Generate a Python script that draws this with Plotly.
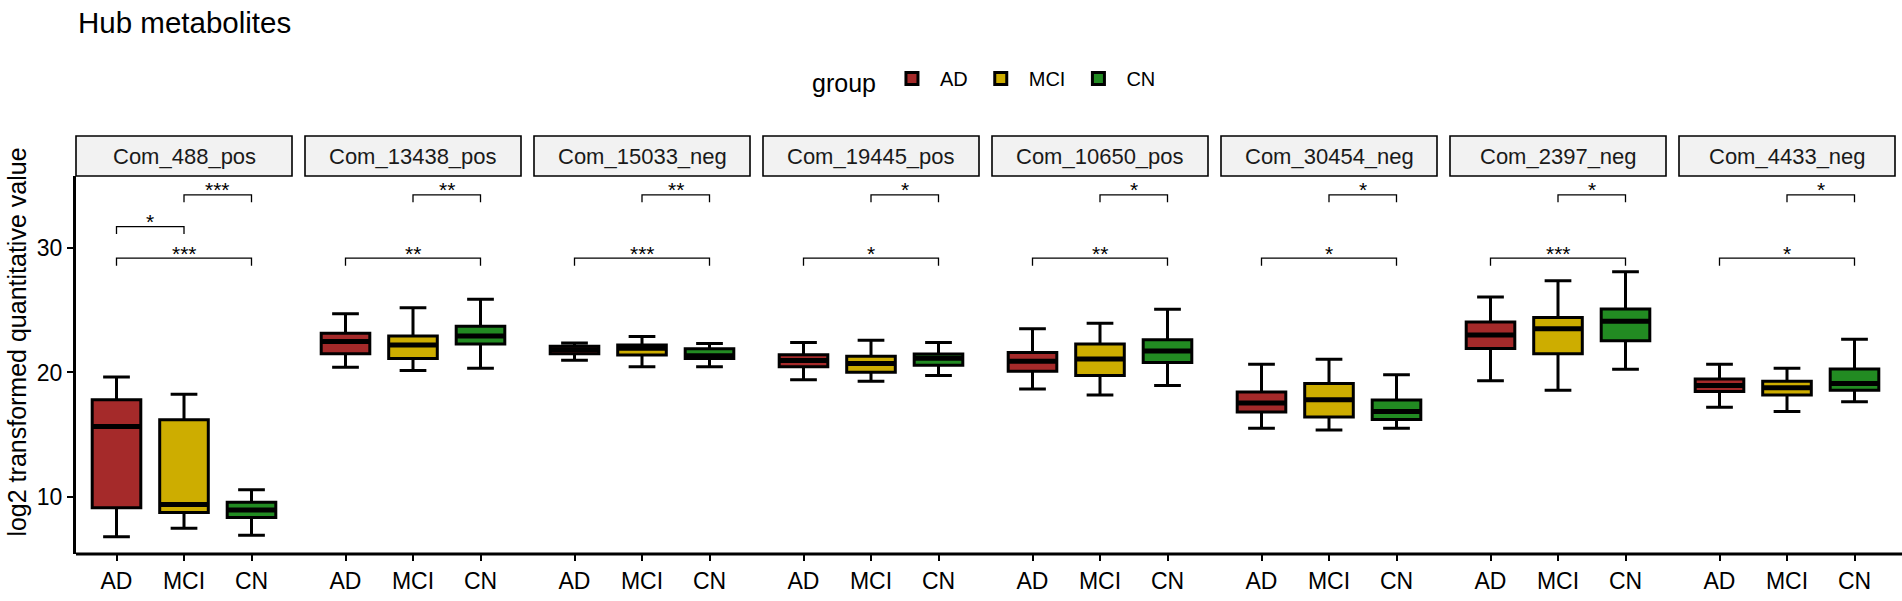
import plotly.graph_objects as go

# ---------------- data ----------------
metabolites = ["Com_488_pos", "Com_13438_pos", "Com_15033_neg", "Com_19445_pos",
               "Com_10650_pos", "Com_30454_neg", "Com_2397_neg", "Com_4433_neg"]
groups = ["AD", "MCI", "CN"]

ad_low = [6.76, 20.41, 20.99, 19.42, 18.66, 15.50, 19.34, 17.20]
ad_q1 = [9.11, 21.51, 21.51, 20.46, 20.10, 16.81, 21.93, 18.46]
ad_med = [15.64, 22.50, 21.82, 20.97, 20.91, 17.54, 23.02, 18.95]
ad_q3 = [17.80, 23.16, 22.10, 21.43, 21.61, 18.43, 24.07, 19.47]
ad_high = [19.63, 24.72, 22.37, 22.42, 23.52, 20.67, 26.08, 20.67]

mci_low = [7.46, 20.15, 20.46, 19.29, 18.19, 15.37, 18.56, 16.86]
mci_q1 = [8.72, 21.12, 21.40, 20.02, 19.76, 16.42, 21.51, 18.19]
mci_med = [9.37, 22.22, 21.95, 20.73, 21.09, 17.80, 23.52, 18.77]
mci_q3 = [16.20, 22.94, 22.22, 21.30, 22.29, 19.11, 24.43, 19.29]
mci_high = [18.25, 25.21, 22.89, 22.60, 23.96, 21.07, 27.38, 20.34]

cn_low = [6.89, 20.34, 20.46, 19.76, 18.95, 15.50, 20.26, 17.64]
cn_q1 = [8.32, 22.29, 21.12, 20.57, 20.81, 16.21, 22.55, 18.56]
cn_med = [8.93, 22.94, 21.35, 21.14, 21.72, 16.86, 24.12, 19.11]
cn_q3 = [9.55, 23.73, 21.90, 21.48, 22.63, 17.78, 25.11, 20.28]
cn_high = [10.55, 25.90, 22.34, 22.42, 25.08, 19.81, 28.11, 22.68]

# significance brackets
sig_panel = [0, 0, 0, 1, 1, 2, 2, 3, 3, 4, 4, 5, 5, 6, 6, 7, 7]
sig_from = ["MCI", "AD", "AD", "MCI", "AD", "MCI", "AD", "MCI", "AD",
            "MCI", "AD", "MCI", "AD", "MCI", "AD", "MCI", "AD"]
sig_to = ["CN", "MCI", "CN", "CN", "CN", "CN", "CN", "CN", "CN",
          "CN", "CN", "CN", "CN", "CN", "CN", "CN", "CN"]
sig_level = [34.3, 31.74, 29.2, 34.3, 29.2, 34.3, 29.2, 34.3, 29.2,
             34.3, 29.2, 34.3, 29.2, 34.3, 29.2, 34.3, 29.2]
sig_label = ["***", "*", "***", "**", "**", "**", "***", "*", "*",
             "*", "**", "*", "*", "*", "***", "*", "*"]

colors = {"AD": "#A52A2A", "MCI": "#CDAD00", "CN": "#228B22"}
stats = {
    "AD": (ad_low, ad_q1, ad_med, ad_q3, ad_high),
    "MCI": (mci_low, mci_q1, mci_med, mci_q3, mci_high),
    "CN": (cn_low, cn_q1, cn_med, cn_q3, cn_high),
}

# ---------------- layout geometry ----------------
W, H = 1902, 601
ML, MR, MT, MB = 76, 7, 176, 37
PW = W - ML - MR
PH = H - MT - MB
PANEL_W = 216
PITCH = 229
BOX_W = 0.72
FONT = "Liberation Sans, Arial, sans-serif"

fig = go.Figure()

def xname(i):
    return "x" if i == 0 else f"x{i+1}"

for i, met in enumerate(metabolites):
    xa = xname(i)
    for gi, g in enumerate(groups):
        lo, q1, md, q3, hi = stats[g]
        pos = gi + 1
        fig.add_trace(go.Box(
            x=[pos], q1=[q1[i]], median=[md[i]], q3=[q3[i]],
            lowerfence=[lo[i]], upperfence=[hi[i]],
            width=BOX_W, whiskerwidth=0.55, boxpoints=False,
            fillcolor=colors[g], line=dict(color="black", width=3),
            name=g, legendgroup=g, showlegend=(i == 0),
            xaxis=xa, yaxis="y", hoverinfo="skip"))
        # thicker median line (ggplot style)
        fig.add_trace(go.Scatter(
            x=[pos - BOX_W / 2, pos + BOX_W / 2], y=[md[i], md[i]],
            mode="lines", line=dict(color="black", width=5),
            showlegend=False, hoverinfo="skip", xaxis=xa, yaxis="y"))

annotations = []
for p, a, b, lvl, lab in zip(sig_panel, sig_from, sig_to, sig_level, sig_label):
    xa = xname(p)
    xa_pos = groups.index(a) + 1
    xb_pos = groups.index(b) + 1
    fig.add_trace(go.Scatter(
        x=[xa_pos, xa_pos, xb_pos, xb_pos], y=[lvl - 0.6, lvl, lvl, lvl - 0.6],
        mode="lines", line=dict(color="black", width=1.3),
        showlegend=False, hoverinfo="skip", xaxis=xa, yaxis="y"))
    annotations.append(dict(
        x=(xa_pos + xb_pos) / 2, y=lvl, xref=xa, yref="y", text=lab,
        showarrow=False, yanchor="middle", yshift=5,
        font=dict(size=21, color="black", family=FONT)))

layout = dict(
    width=W, height=H,
    margin=dict(l=ML, r=MR, t=MT, b=MB, pad=0),
    paper_bgcolor="white", plot_bgcolor="white",
    font=dict(family=FONT, color="black"),
    showlegend=True,
    legend=dict(orientation="h", x=0.50, xanchor="center",
                y=1 + (MT - 78) / PH, yanchor="middle",
                title=dict(text="group", font=dict(size=25), side="left"),
                font=dict(size=20), itemwidth=46, bgcolor="rgba(0,0,0,0)"),
    yaxis=dict(domain=[0, 1], range=[5.38, 35.82], tickvals=[10, 20, 30],
               ticks="outside", ticklen=6, tickwidth=2, tickcolor="black",
               showline=True, linewidth=3, linecolor="black",
               showgrid=False, zeroline=False, anchor="x",
               tickfont=dict(size=23, color="black")),
)

shapes = []
for i, met in enumerate(metabolites):
    key = "xaxis" if i == 0 else f"xaxis{i+1}"
    d0 = (i * PITCH) / PW
    d1 = min((i * PITCH + PANEL_W) / PW, 1.0)
    layout[key] = dict(domain=[d0, d1], range=[0.4, 3.6], tickvals=[1, 2, 3],
                       ticktext=groups, ticks="outside", ticklen=6, tickwidth=2,
                       tickcolor="black", showline=False, showgrid=False,
                       zeroline=False, anchor="y",
                       tickfont=dict(size=23, color="black"))
    xd = xname(i) + " domain"
    shapes.append(dict(type="rect", xref=xd, x0=0, x1=1, yref="paper",
                       y0=1.0, y1=1 + (176 - 135) / PH,
                       fillcolor="#F2F2F2", line=dict(color="black", width=1.6),
                       layer="above"))
    annotations.append(dict(x=0.5, y=1 + (176 - 155.5) / PH, xref=xd, yref="paper",
                            text=met, showarrow=False, xanchor="center",
                            yanchor="middle",
                            font=dict(size=22, color="#1a1a1a", family=FONT)))

# continuous x axis line
shapes.append(dict(type="line", xref="paper", yref="paper", x0=0, x1=1 + MR / PW,
                   y0=0, y1=0, line=dict(color="black", width=3)))

# title and y-axis title
annotations.append(dict(x=0, y=1 + (MT - 18) / PH, xref="paper", yref="paper",
                        text="Hub metabolites", showarrow=False, xanchor="left",
                        yanchor="middle",
                        font=dict(size=29.5, color="black", family=FONT)))
annotations.append(dict(x=(17 - ML) / PW, y=1 - (347 - MT) / PH, xref="paper",
                        yref="paper", text="log2 transformed quantitative value",
                        showarrow=False, textangle=-90, xanchor="center",
                        yanchor="middle",
                        font=dict(size=25, color="black", family=FONT)))

layout["shapes"] = shapes
layout["annotations"] = annotations
fig.update_layout(**layout)

fig.write_html("out.html", config={"displayModeBar": False},
               post_script="document.body.style.margin='0';")
